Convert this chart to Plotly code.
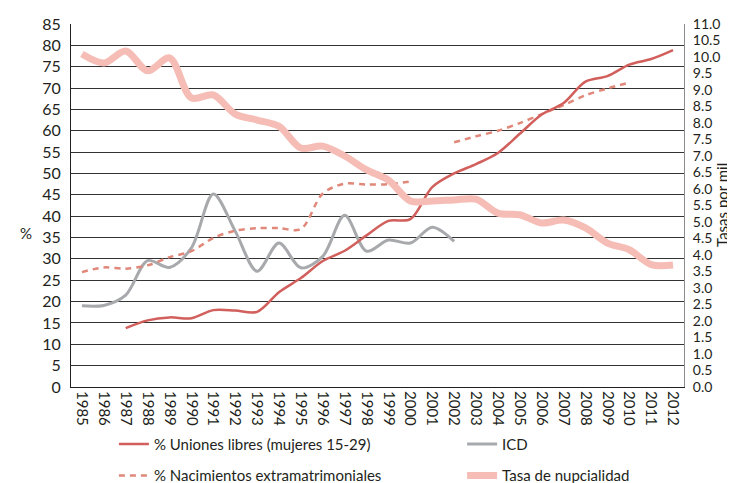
import plotly.graph_objects as go

years = list(range(1985, 2013))

uniones_libres = [None, None, 13.8, 15.6, 16.3, 16.1, 18.0, 17.9, 17.6, 22.2, 25.5, 29.5, 31.9,
                  35.5, 38.9, 39.3, 46.8, 50.0, 52.2, 54.8, 59.3, 63.8, 66.5, 71.5, 72.8, 75.5, 76.8, 78.9]

nacimientos_extra = [26.9, 28.0, 27.7, 28.5, 30.4, 31.8, 34.9, 36.6, 37.2, 37.2, 37.0, 45.3, 47.6,
                     47.4, 47.5, 48.1, None, 57.3, 58.7, 60.0, 61.8, 63.9, 66.0, 68.3, 69.9, 71.3, None, None]

icd = [19.0, 19.1, 21.5, 29.6, 28.0, 32.6, 45.2, 36.5, 27.1, 33.7, 27.9, 30.6, 40.2, 31.8,
       34.4, 33.7, 37.4, 34.1, None, None, None, None, None, None, None, None, None, None]

tasa_nupcialidad = [10.09, 9.82, 10.18, 9.58, 9.97, 8.76, 8.85, 8.27, 8.09, 7.9, 7.24, 7.3, 7.0, 6.58,
                    6.27, 5.64, 5.64, 5.67, 5.69, 5.27, 5.22, 4.97, 5.06, 4.82, 4.36, 4.16, 3.71, 3.7]

right_ticks = [i * 0.5 for i in range(23)]

FONT = "Lato"
TXT = "#231f20"

L, R, T, B = 63, 59, 16, 104
W, H = 735, 483
pw, ph = W - L - R, H - T - B


def px_x(x):
    return (x - L) / pw


def px_y(y):
    return (H - B - y) / ph


fig = go.Figure()

fig.add_trace(go.Scatter(
    x=years, y=tasa_nupcialidad, name="Tasa de nupcialidad", yaxis="y2",
    mode="lines", line=dict(color="#f5bdb5", width=7, shape="spline", smoothing=0.9),
    legend="legend2", legendgroup="d", legendrank=2))

fig.add_trace(go.Scatter(
    x=years, y=icd, name="ICD", mode="lines",
    line=dict(color="#a7a9ac", width=3, shape="spline", smoothing=0.9),
    legend="legend2", legendgroup="c", legendrank=1))

fig.add_trace(go.Scatter(
    x=years, y=nacimientos_extra, name="% Nacimientos extramatrimoniales", mode="lines",
    line=dict(color="#e0887a", width=2.5, dash="6px,5px", shape="spline", smoothing=0.9),
    connectgaps=False, legend="legend", legendgroup="b", legendrank=2))

fig.add_trace(go.Scatter(
    x=years, y=uniones_libres, name="% Uniones libres (mujeres 15-29)", mode="lines",
    line=dict(color="#d15f5c", width=2.5, shape="spline", smoothing=0.9),
    legend="legend", legendgroup="a", legendrank=1))

fig.update_layout(
    width=W, height=H,
    margin=dict(l=L, r=R, t=T, b=B, autoexpand=False),
    paper_bgcolor="white", plot_bgcolor="white",
    font=dict(family=FONT, size=15, color=TXT),
    showlegend=True,
    xaxis=dict(
        range=[1984.5, 2012.5], tickmode="array", tickvals=years,
        ticktext=[str(y) for y in years], tickangle=90, automargin=False,
        showgrid=False, zeroline=False, showline=True, linecolor="#231f20", linewidth=1,
        ticks="", tickfont=dict(size=15, family=FONT, color=TXT)),
    yaxis=dict(
        range=[0, 85], dtick=5, tick0=0, showgrid=True, gridcolor="#333333", gridwidth=1,
        zeroline=False, showline=True, linecolor="#231f20", linewidth=1, ticks="",
        automargin=False, ticklabelstandoff=6, tickfont=dict(size=16, family=FONT, color=TXT)),
    yaxis2=dict(
        range=[0, 11], overlaying="y", side="right", tickmode="array", tickvals=right_ticks,
        ticktext=[f"{v:.1f}" for v in right_ticks], showgrid=False, zeroline=False,
        showline=True, linecolor="#8c8c8c", linewidth=1, ticks="", ticklabelstandoff=5,
        automargin=False, tickfont=dict(size=14, family=FONT, color=TXT)),
    legend=dict(x=0.07, y=-0.112, xanchor="left", yanchor="top", orientation="v",
                tracegroupgap=9, font=dict(size=15, family=FONT, color=TXT),
                bgcolor="rgba(0,0,0,0)"),
    legend2=dict(x=0.638, y=-0.112, xanchor="left", yanchor="top", orientation="v",
                 tracegroupgap=9, font=dict(size=15, family=FONT, color=TXT),
                 bgcolor="rgba(0,0,0,0)"),
    annotations=[
        dict(text="%", x=px_x(18), y=px_y(225), xref="paper", yref="paper", showarrow=False,
             xanchor="center", yanchor="middle", font=dict(size=15, family=FONT, color=TXT)),
        dict(text="Tasas por mil", textangle=-90, x=px_x(722), y=px_y(197), xref="paper",
             yref="paper", showarrow=False, xanchor="center", yanchor="middle", xshift=-8,
             font=dict(size=15, family=FONT, color=TXT)),
    ],
)

fig.write_html("out.html")
